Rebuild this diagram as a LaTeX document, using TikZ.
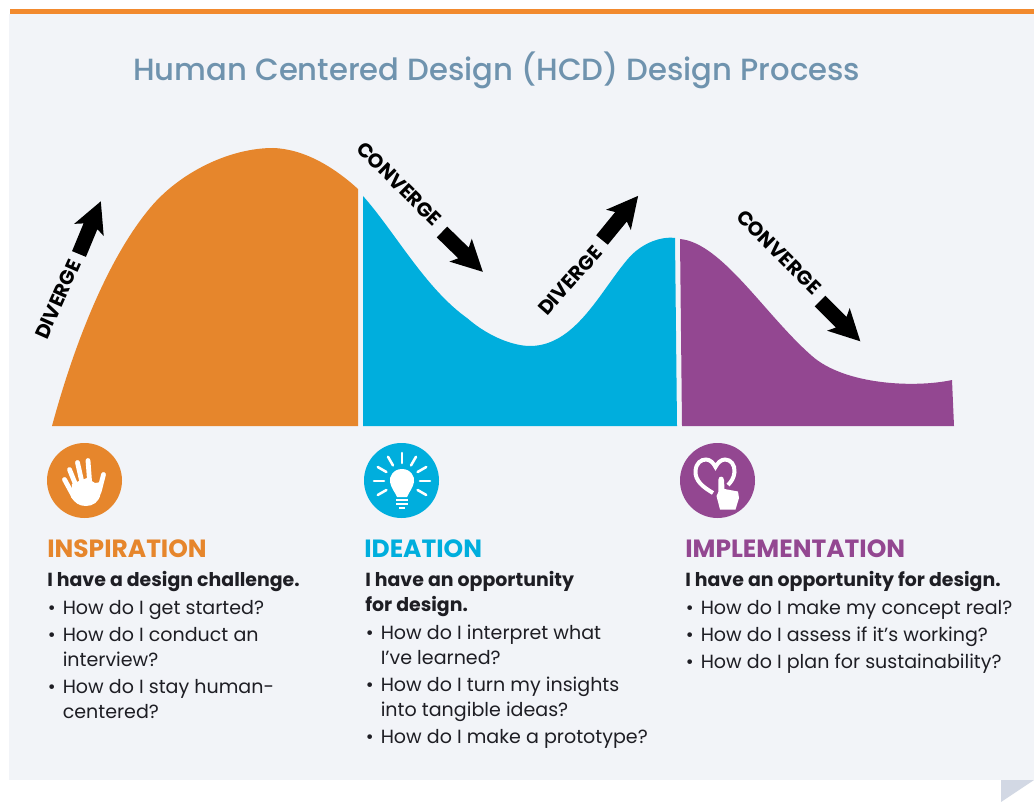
\documentclass[tikz,border=0pt]{standalone}
\usepackage{fontspec}
\usetikzlibrary{calc}
\setmainfont{Poppins}
\newfontfamily\popmed{Poppins Medium}
\definecolor{bg}{HTML}{F2F4F8}
\definecolor{topbar}{HTML}{F28A2E}
\definecolor{oran}{HTML}{E6862C}
\definecolor{cyanb}{HTML}{00AEDD}
\definecolor{purp}{HTML}{934791}
\definecolor{titlec}{HTML}{6F93AE}
\definecolor{fold}{HTML}{D2D8E4}
\definecolor{bodyc}{HTML}{1E1E24}
\newcommand{\bu}{\makebox[11.25pt][l]{•}}
\tikzset{
 x=0.75pt,y=-0.75pt,
 titletxt/.style={anchor=base west,inner sep=0,font=\popmed\fontsize{23}{26}\selectfont,text=titlec},
 headtxt/.style={anchor=base west,inner sep=0,font=\fontsize{18.7}{22}\selectfont\bfseries},
 subtxt/.style={anchor=base west,inner sep=0,font=\fontsize{14.2}{17}\selectfont\bfseries,text=bodyc},
 bodytxt/.style={anchor=base west,inner sep=0,font=\fontsize{14.3}{17}\selectfont,text=bodyc},
 vergetxt/.style={anchor=base west,inner sep=0,font=\fontsize{14.9}{17}\selectfont\bfseries,text=black},
 whitestroke/.style={draw=white,line cap=round,line width=1.9pt},
 fingerstroke/.style={draw=white,line cap=round,line width=3.6pt},
}
\newcommand{\blockarrow}[4]{% x,y (tail centre), angle, length
 \begin{scope}[shift={(#1,#2)},rotate=#3]
 \fill[black] (0,-7.5) -- (#4-27,-7.5) -- (#4-31,-16) -- (#4,0) -- (#4-31,16) -- (#4-27,7.5) -- (0,7.5) -- cycle;
 \end{scope}}
\begin{document}
\begin{tikzpicture}
\useasboundingbox (0,0) rectangle (1034,802);
\fill[white] (0,0) rectangle (1034,802);
\fill[bg] (9,14) rectangle (1034,780);
\fill[topbar] (10,9) rectangle (1034,14);
\fill[fold] (1001,780) -- (1034,780) -- (1001,802) -- cycle;
\node[titletxt] (title) at (133,80.5) {Human Centered Design (HCD) Design Process};
% hills
\fill[oran] (52,426) .. controls (72,352) and (105,262) .. (150,208) .. controls (180,172) and (230,148) .. (273,148) .. controls (305,149) and (335,168) .. (358,189) -- (358,426) -- cycle;
\fill[cyanb] (363,196) .. controls (395,232) and (425,288) .. (467,318) .. controls (490,338) and (515,346) .. (530,346) .. controls (575,346) and (600,292) .. (627,260) .. controls (640,244) and (660,236) .. (675,238) -- (677,426) -- (363,426) -- cycle;
\fill[purp] (680,239) .. controls (722,243) and (765,315) .. (812,356) .. controls (845,385) and (915,388) .. (952,380) -- (954,426) -- (682,426) -- cycle;
% arrows
\blockarrow{79}{254}{67.5}{57}
\blockarrow{442}{232}{-44.3}{57}
\blockarrow{602}{240}{50.7}{57}
\blockarrow{820}{301}{-45}{57}
\node[vergetxt,rotate=66] (d1) at (47,341) {DIVERGE};
\node[vergetxt,rotate=-44.6] (c1) at (355,150) {CONVERGE};
\node[vergetxt,rotate=48.4] (d2) at (547,317) {DIVERGE};
\node[vergetxt,rotate=-45] (c2) at (735,218) {CONVERGE};
% icons
\fill[oran] (84.5,480.5) circle (37.5);
\fill[cyanb] (401.5,480.5) circle (37.5);
\fill[purp] (717.5,480.5) circle (37.5);
% hand
\draw[fingerstroke] (64.5,479.5) -- (74,497);
\draw[fingerstroke] (69.5,469.5) -- (77,488);
\draw[fingerstroke] (77.5,462.5) -- (83,487);
\draw[fingerstroke] (88,460.5) -- (90,487);
\draw[fingerstroke] (103.5,474.5) -- (99,492);
\fill[white] (72,484) -- (79,481) -- (87,478) -- (95,483) -- (101,482) -- (100.5,494) .. controls (99,502) and (93,506) .. (86,506) .. controls (79,506) and (75,503) .. (71,497) -- cycle;
% bulb
\fill[white] (402,469) .. controls (393,469) and (389,477) .. (390,482) .. controls (391,488) and (395,492) .. (397,497) -- (407,497) .. controls (409,492) and (413,488) .. (414,482) .. controls (415,477) and (411,469) .. (402,469) -- cycle;
\fill[white] (396,499) rectangle (408,501);
\fill[white] (396,503) rectangle (408,505);
\fill[white] (399,507) rectangle (405,509);
\foreach \a in {0,30,60,90,120,150,180,-30,-150}{
 \draw[whitestroke] ($(402,481)+({18*cos(\a)},{-18*sin(\a)})$) -- ($(402,481)+({28*cos(\a)},{-28*sin(\a)})$);
}
% heart + finger
\draw[whitestroke,line width=3pt,line cap=butt] (713,493) .. controls (703,487) and (695,481) .. (695.5,471) .. controls (696,463) and (701,459.5) .. (706,459.5) .. controls (710,459.5) and (713.5,463) .. (715.5,467) .. controls (717.5,463) and (721,459.5) .. (725,459.5) .. controls (731,459.5) and (735,465) .. (734.5,472) .. controls (734,478) and (731,482) .. (728,485);
\fill[white] (718.3,480) .. controls (718.3,475.5) and (724,475.5) .. (724,480) -- (724.5,489) -- (738,491.5) -- (739,498) -- (735.5,509.5) -- (720,509.5) -- (716.5,496) -- (718.3,492) -- cycle;
% texts
\node[headtxt,text=oran] (h1) at (47,557.5) {INSPIRATION};
\node[subtxt] (s1) at (47,586) {I have a design challenge.};
\node[bodytxt] (a1) at (47.5,614) {\bu How do I get started?};
\node[bodytxt] (a2) at (47.5,641) {\bu How do I conduct an};
\node[bodytxt] (a3) at (62.5,666) {interview?};
\node[bodytxt] (a4) at (47.5,693) {\bu How do I stay human-};
\node[bodytxt] (a5) at (62.5,718) {centered?};
\node[headtxt,text=cyanb] (h2) at (364,557.5) {IDEATION};
\node[subtxt] (s2) at (365,586) {I have an opportunity};
\node[subtxt] (s3) at (365,611) {for design.};
\node[bodytxt] (b1) at (365.5,639) {\bu How do I interpret what};
\node[bodytxt] (b2) at (380.5,664) {I’ve learned?};
\node[bodytxt] (b3) at (365.5,691) {\bu How do I turn my insights};
\node[bodytxt] (b4) at (380.5,716) {into tangible ideas?};
\node[bodytxt] (b5) at (365.5,743) {\bu How do I make a prototype?};
\node[headtxt,text=purp] (h3) at (685,557.5) {IMPLEMENTATION};
\node[subtxt] (s4) at (685,586) {I have an opportunity for design.};
\node[bodytxt] (c3) at (685.5,614) {\bu How do I make my concept real?};
\node[bodytxt] (c4) at (685.5,641) {\bu How do I assess if it’s working?};
\node[bodytxt] (c5) at (685.5,668) {\bu How do I plan for sustainability?};
\end{tikzpicture}
\end{document}
